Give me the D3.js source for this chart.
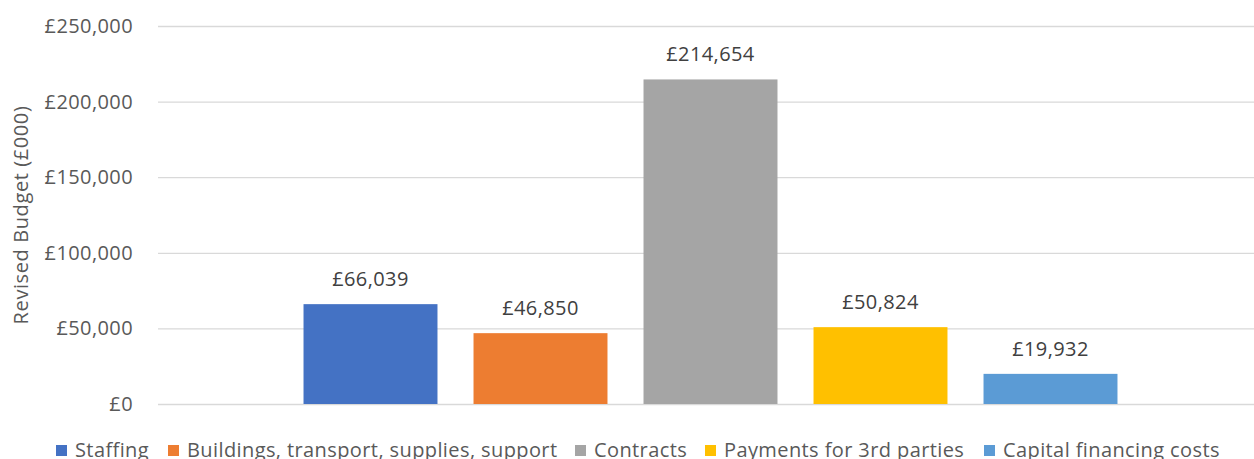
<!DOCTYPE html>
<html>
<head>
<meta charset="utf-8">
<script src="https://cdn.jsdelivr.net/npm/d3@7"></script>
<style>
  html, body { margin: 0; padding: 0; background: #fff; }
  svg { display: block; font-family: "Open Sans", "Noto Sans", sans-serif; }
</style>
</head>
<body>
<svg id="chart" width="1254" height="459"></svg>
<script>
// Revised budget by spending category (£000)
const categories = [
  "Staffing",
  "Buildings, transport, supplies, support",
  "Contracts",
  "Payments for 3rd parties",
  "Capital financing costs"
];
const values = [66039, 46850, 214654, 50824, 19932];
const colors = ["#4472C4", "#ED7D31", "#A5A5A5", "#FFC000", "#5B9BD5"];
const yTicks = [0, 50000, 100000, 150000, 200000, 250000];
const yTitle = "Revised Budget (£000)";

const svg = d3.select("#chart");
const plot = { left: 158, right: 1263, top: 26, bottom: 404 };
const textStyle = sel => sel
  .style("font-size", "20px")
  .style("letter-spacing", "0.4px")
  .style("font-family", "'Open Sans', 'Noto Sans', sans-serif");

const x = d3.scaleBand()
  .domain(categories)
  .range([plot.left, plot.right])
  .paddingInner(0.212)
  .paddingOuter(0.856);

const y = d3.scaleLinear()
  .domain([0, 250000])
  .range([plot.bottom, plot.top]);

const money = v => "£" + d3.format(",")(v);

// gridlines + tick labels
const yAxis = d3.axisLeft(y)
  .tickValues(yTicks)
  .tickSize(-(plot.right - plot.left))
  .tickPadding(25)
  .tickFormat(money);

const gy = svg.append("g")
  .attr("transform", `translate(${plot.left},0)`)
  .call(yAxis);
gy.select(".domain").remove();
gy.selectAll(".tick line").attr("stroke", "#D9D9D9").attr("stroke-width", 1.3);
gy.selectAll(".tick text").attr("fill", "#595959").call(textStyle);

// axis title
svg.append("text")
  .attr("transform", `translate(28,215) rotate(-90)`)
  .attr("text-anchor", "middle")
  .attr("fill", "#595959")
  .style("font-size", "20px")
  .style("letter-spacing", "0.6px")
  .text(yTitle);

// bars
svg.append("g").selectAll("rect")
  .data(categories)
  .join("rect")
  .attr("x", d => x(d))
  .attr("width", x.bandwidth())
  .attr("y", (d, i) => y(values[i]))
  .attr("height", (d, i) => y(0) - y(values[i]))
  .attr("fill", (d, i) => colors[i]);

// value labels
svg.append("g").selectAll("text")
  .data(categories)
  .join("text")
  .attr("x", d => x(d) + x.bandwidth() / 2)
  .attr("y", (d, i) => y(values[i]) - 18)
  .attr("text-anchor", "middle")
  .attr("fill", "#404040")
  .call(textStyle)
  .text((d, i) => money(values[i]));

// legend
const legendX = [56, 168, 575, 705, 984];
const lg = svg.append("g").selectAll("g")
  .data(categories)
  .join("g")
  .attr("transform", (d, i) => `translate(${legendX[i]},445)`);
lg.append("rect")
  .attr("width", 11)
  .attr("height", 11)
  .attr("fill", (d, i) => colors[i]);
lg.append("text")
  .attr("x", 19)
  .attr("y", 12)
  .attr("fill", "#595959")
  .call(textStyle)
  .text(d => d);
</script>
</body>
</html>
